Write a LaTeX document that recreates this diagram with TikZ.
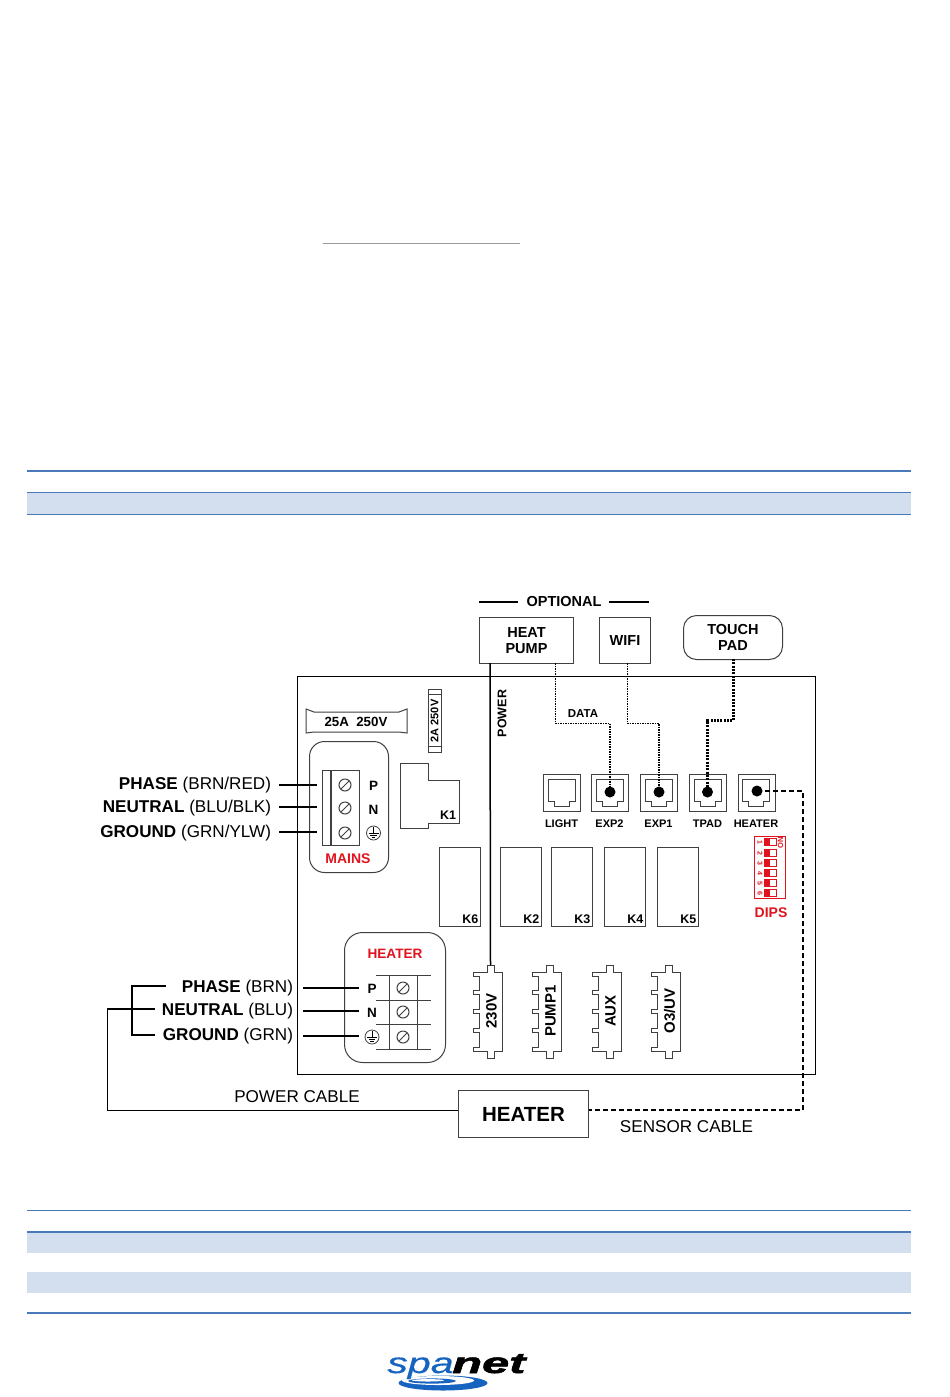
\documentclass[tikz,border=0pt]{standalone}
\usepackage{fontspec}
\setmainfont{Liberation Sans}
\newfontfamily\netfont[BoldFeatures={FakeBold=1.6},BoldItalicFeatures={FakeBold=1.6}]{Liberation Sans}
\newfontfamily\spafont[ItalicFeatures={FakeBold=0.4}]{Liberation Sans}
\definecolor{rulecol}{HTML}{4A79B8}
\definecolor{bandcol}{HTML}{D3DFEE}
\definecolor{edgecol}{HTML}{404040}
\definecolor{redcol}{HTML}{E0141E}
\definecolor{logoblue}{HTML}{1763C0}
\newcommand\fsz[1]{\fontsize{#1}{#1}\selectfont}
\tikzset{
  rulel/.style={draw=rulecol,line width=1.5pt},
  band/.style={fill=bandcol,draw=none},
  thinbox/.style={draw=edgecol,line width=1pt},
  wire/.style={draw=black,line width=2pt},
  cable/.style={draw=black,line width=1.3pt},
  datal/.style={draw=black,line width=1.6pt,dash pattern=on 1.5pt off 1pt},
  touchl/.style={draw=black,line width=2.2pt,dash pattern=on 2pt off 1.3pt},
  sensorl/.style={draw=black,line width=2pt,dash pattern=on 5pt off 3pt},
  lbl/.style={inner sep=0pt,outer sep=0pt,text=black,font=\fsz{17.1}},
  blk/.style={inner sep=0pt,outer sep=0pt,align=center,font=\bfseries\fsz{14.5}},
  small/.style={inner sep=0pt,outer sep=0pt,font=\bfseries\fsz{11}},
  redl/.style={inner sep=0pt,outer sep=0pt,text=redcol,font=\bfseries\fsz{14}},
  screw/.style={circle,draw=edgecol,line width=1pt,minimum size=12pt,inner sep=0pt},
  dotn/.style={circle,fill=black,minimum size=11pt,inner sep=0pt},
  gnd/.style={circle,draw=edgecol,line width=0.8pt,minimum size=14pt,inner sep=0pt},
  boxn/.style={rectangle,thinbox,inner sep=0pt,align=center,font=\bfseries\fsz{14.5}},
}
% screw terminal: name, x, y
\newcommand\screwat[3]{\node[screw] (#1) at (#2,#3) {};
  \draw[edgecol,line width=1pt] ([shift={(-3.8,3.8)}]#1.center) -- ([shift={(3.8,-3.8)}]#1.center);}
% earth symbol
\newcommand\gndat[3]{\node[gnd] (#1) at (#2,#3) {};
  \draw[black,line width=0.8pt] ([shift={(0,-6)}]#1.center) -- ([shift={(0,0.8)}]#1.center)
    ([shift={(-5,0.8)}]#1.center) -- ([shift={(5,0.8)}]#1.center)
    ([shift={(-3.3,2.8)}]#1.center) -- ([shift={(3.3,2.8)}]#1.center)
    ([shift={(-1.6,4.6)}]#1.center) -- ([shift={(1.6,4.6)}]#1.center);}
% RJ jack: name, x, y (top-left), label
\newcommand\jack[4]{\begin{scope}[shift={(#2,#3)}]
  \node[thinbox,minimum size=37pt,inner sep=0pt,anchor=north west] (#1) at (0,0) {};
  \draw[edgecol,line width=1pt] (5,5) -- (32,5) -- (32,27) -- (26,27) -- (26,32) -- (11,32) -- (11,27) -- (5,27) -- cycle;
  \node[small] (#1-l) at (18.5,50) {#4};
  \end{scope}}
% relay: name, x0, x1, label
\newcommand\relay[4]{\node[thinbox,minimum width=#3pt-#2pt,minimum height=79pt,inner sep=0pt,anchor=north west] (#1) at (#2,847) {};
  \node[inner sep=0pt,font=\bfseries\fsz{12.5},anchor=south east] at ([shift={(-2.5,-3)}]#1.south east) {#4};}
% output connector: name, x0, label
\newcommand\conn[3]{\begin{scope}[shift={(#2,965)}]
  \draw[thinbox] (14,7) -- (14,0) -- (21,0) -- (21,7) -- (29,7) -- (29,86) -- (21,86) -- (21,93) -- (14,93) -- (14,86) -- (0,86) -- (0,82) -- (6,82)
   -- (6,67) -- (0,67) -- (0,63) -- (6,63) -- (6,48) -- (0,48) -- (0,44) -- (6,44) -- (6,29) -- (0,29) -- (0,25) -- (6,25) -- (6,11) -- (0,11) -- (0,7) -- cycle;
  \node[rotate=90,inner sep=0pt,font=\bfseries\fsz{15}] (#1) at (18.5,46) {#3};
  \coordinate (#1-top) at (17.5,0);
  \end{scope}}
% DIP switch row
\newcommand\dip[2]{\draw[redcol,line width=0.7pt] (764,#2-3.5) rectangle (776,#2+3.5);
  \fill[redcol] (764,#2-3.5) rectangle (770,#2+3.5);
  \node[rotate=-90,text=redcol,inner sep=0pt,font=\bfseries\fsz{7}] at (760,#2) {#1};}
\begin{document}
\begin{tikzpicture}[x=1pt,y=-1pt]
\useasboundingbox (0,0) rectangle (950,1397);
\fill[white] (0,0) rectangle (950,1397);

% page rules
\draw[draw=gray!80,line width=1pt] (323,243) -- (520,243);
\fill[band] (27,492) rectangle (911,515);
\draw[rulel] (27,471) -- (911,471);
\draw[rulel] (27,492.5) -- (911,492.5);
\draw[rulel] (27,514.5) -- (911,514.5);
\fill[band] (27,1232) rectangle (911,1252.5);
\fill[band] (27,1272) rectangle (911,1292.5);
\draw[rulel] (27,1210.5) -- (911,1210.5);
\draw[rulel] (27,1232) -- (911,1232);
\draw[rulel,line width=1.8pt] (27,1313) -- (911,1313);

% board
\node[draw=black,line width=1.1pt,minimum width=518pt,minimum height=398pt,inner sep=0pt,anchor=north west] (board) at (297,676) {};

% top devices
\node[blk] (optional) at (564,601.5) {OPTIONAL};
\coordinate (optL) at (479,602); \coordinate (optLe) at (518,602);
\coordinate (optR) at (609,602); \coordinate (optRe) at (649,602);
\draw[cable] (optL) -- (optLe) (optR) -- (optRe);
\node[boxn,minimum width=94pt,minimum height=46pt,anchor=north west] (hp) at (479,617) {HEAT\\[2pt]PUMP};
\node[boxn,minimum width=51pt,minimum height=46pt,anchor=north west] (wifi) at (599,617) {WIFI};
\node[boxn,rounded corners=13pt,minimum width=99pt,minimum height=44pt,anchor=north west] (tp) at (683,615) {TOUCH\\[2pt]PAD};

% fuses
\draw[thinbox] (306,709) -- (314,712) -- (399,712) -- (407,709) -- (407,733) -- (399,732) -- (314,732) -- (306,733) -- cycle;
\node[inner sep=0pt,font=\bfseries\fsz{13.3}] (f25) at (356,722) {25A\ \ 250V};
\node[thinbox,minimum width=13pt,minimum height=63pt,inner sep=0pt,anchor=north west] (f2) at (428,689) {};
\draw[thinbox] (428,694) -- (441,694) (428,746) -- (441,746);
\node[rotate=90,inner sep=0pt,font=\bfseries\fsz{11}] (f2l) at (434.5,721) {2A 250V};

% mains block
\node[thinbox,rounded corners=15pt,minimum width=79pt,minimum height=131pt,anchor=north west] (mains) at (309,741) {};
\node[thinbox,minimum width=37pt,minimum height=75pt,inner sep=0pt,anchor=north west] (mterm) at (322,770) {};
\draw[thinbox,line width=1.1pt] (331,770) -- (331,845);
\screwat{ms1}{345}{785}
\screwat{ms2}{345}{808}
\screwat{ms3}{345}{833}
\node[inner sep=0pt,font=\bfseries\fsz{13.5}] (mp) at (373.5,785.5) {P};
\node[inner sep=0pt,font=\bfseries\fsz{13.5}] (mn) at (373.5,809.5) {N};
\gndat{mg}{373.5}{833}
\node[redl] (mainsl) at (348,859) {MAINS};
\node[lbl,anchor=east] (lp) at (271,785.5) {\textbf{PHASE} (BRN/RED)};
\node[lbl,anchor=east] (ln) at (271,808.5) {\textbf{NEUTRAL} (BLU/BLK)};
\node[lbl,anchor=east] (lg) at (271,833.5) {\textbf{GROUND} (GRN/YLW)};
\coordinate (wp0) at (279,785); \coordinate (wp1) at (317,785);
\coordinate (wn0) at (279,807); \coordinate (wn1) at (317,807);
\coordinate (wg0) at (279,832); \coordinate (wg1) at (317,832);
\draw[wire] (wp0) -- (wp1) (wn0) -- (wn1) (wg0) -- (wg1);

% K1
\draw[thinbox] (400,763) -- (428,763) -- (428,780) -- (459,780) -- (459,823) -- (428,823) -- (428,828) -- (400,828) -- cycle;
\node[inner sep=0pt,font=\bfseries\fsz{12.5}] (k1) at (448,815) {K1};

% relays
\relay{k6}{439}{480}{K6}
\relay{k2}{500}{541}{K2}
\relay{k3}{551}{592}{K3}
\relay{k4}{604}{645}{K4}
\relay{k5}{657}{698}{K5}

% jacks
\jack{jl}{543}{774}{LIGHT}
\jack{je2}{591}{774}{EXP2}
\jack{je1}{640}{774}{EXP1}
\jack{jt}{689}{774}{TPAD}
\jack{jh}{737.5}{774}{HEATER}
\node[dotn] (de2) at (610,792) {};
\node[dotn] (de1) at (659,792) {};
\node[dotn] (dt) at (707.5,792) {};
\node[dotn] (dh) at (757,791) {};

% dips
\node[draw=redcol,line width=0.8pt,minimum width=31pt,minimum height=62pt,inner sep=0pt,anchor=north west] (dips) at (754,836) {};
\dip{1}{842}\dip{2}{853}\dip{3}{863}\dip{4}{873}\dip{5}{883}\dip{6}{893}
\node[rotate=90,text=redcol,inner sep=0pt,font=\bfseries\fsz{7.5}] (don) at (780.5,843) {ON};
\node[redl] (dipsl) at (771,913) {DIPS};

% heater block
\node[thinbox,rounded corners=18pt,minimum width=101pt,minimum height=130pt,anchor=north west] (hb) at (344,932) {};
\node[redl,font=\bfseries\fsz{13.6}] (hbl) at (395,953.5) {HEATER};
\draw[thinbox] (376,975) -- (431,975) (376,1000) -- (431,1000) (376,1024.5) -- (431,1024.5) (376,1049) -- (431,1049)
  (389,975) -- (389,1049) (417,975) -- (417,1049);
\screwat{hs1}{403}{988}
\screwat{hs2}{403}{1012}
\screwat{hs3}{403}{1037}
\node[inner sep=0pt,font=\bfseries\fsz{13.5}] (hp2) at (372,988.5) {P};
\node[inner sep=0pt,font=\bfseries\fsz{13.5}] (hn) at (372,1013) {N};
\gndat{hg}{372}{1037}
\node[lbl,anchor=east] (hlp) at (293,988.5) {\textbf{PHASE} (BRN)};
\node[lbl,anchor=east] (hln) at (293,1011.5) {\textbf{NEUTRAL} (BLU)};
\node[lbl,anchor=east] (hlg) at (293,1036.5) {\textbf{GROUND} (GRN)};
\coordinate (hw1a) at (303,988); \coordinate (hw1b) at (359,988);
\coordinate (hw2a) at (303,1011); \coordinate (hw2b) at (359,1011);
\coordinate (hw3a) at (303,1036); \coordinate (hw3b) at (359,1036);
\draw[wire] (hw1a) -- (hw1b) (hw2a) -- (hw2b) (hw3a) -- (hw3b);

% output connectors
\conn{c230}{473}{230V}
\conn{cpump}{532}{PUMP1}
\conn{caux}{592}{AUX}
\conn{co3}{651}{O3/UV}

% heater box
\node[boxn,font=\bfseries\fsz{20.5},minimum width=130pt,minimum height=47pt,anchor=north west] (heater) at (458,1090) {HEATER};
\node[lbl] (pcable) at (297,1096.5) {POWER CABLE};
\node[lbl] (scable) at (686.5,1126.5) {SENSOR CABLE};

% power line
\coordinate (hpdown) at (490,663);
\draw[cable,line width=1.5pt] (hpdown) -- (c230-top);
\node[rotate=90,inner sep=0pt,font=\bfseries\fsz{12.5}] (powerl) at (502,713.5) {POWER};

% data
\coordinate (hpd) at (555.5,663); \coordinate (wfd) at (627.5,663);
\draw[datal] (hpd) -- (555.5,723.5) -| (de2.center);
\draw[datal] (wfd) -- (627.5,723.5) -| (de1.center);
\node[inner sep=0pt,font=\bfseries\fsz{11.5}] (datal) at (583,714) {DATA};
\coordinate (tpd) at (733.5,659);
\draw[touchl] (tpd) -- (733.5,720.5) -| (dt.center);
\draw[sensorl] (dh.center) -- (803,791) -- (803,1110) -- (heater.east |- 0,1110);

% neutral / phase brackets
\coordinate (brp) at (166,986); \coordinate (brg) at (155,1035);
\draw[cable] (brp) -- (132,986) -- (132,1035) -- (brg);
\coordinate (brn) at (155,1009);
\draw[cable] (brn) -- (107.5,1009) -- (107.5,1110.5) -- (heater.west |- 0,1110.5);

% logo
\fill[logoblue] (443,1383) ellipse [x radius=44.5,y radius=7.5];
\fill[white] (438,1380.5) ellipse [x radius=36,y radius=4.5];
\fill[logoblue] (432,1381) ellipse [x radius=24,y radius=2.6];
\fill[white] (428,1380.3) ellipse [x radius=16,y radius=1.2];
\node[inner sep=0pt,anchor=base west,xscale=1.42,text=logoblue,font=\spafont\itshape\fsz{29}] (logospa) at (387,1373) {spa};
\node[inner sep=0pt,anchor=base west,xscale=1.68,text=black,font=\netfont\bfseries\itshape\fsz{29}] (logonet) at (452,1373) {net};
\end{tikzpicture}
\end{document}
